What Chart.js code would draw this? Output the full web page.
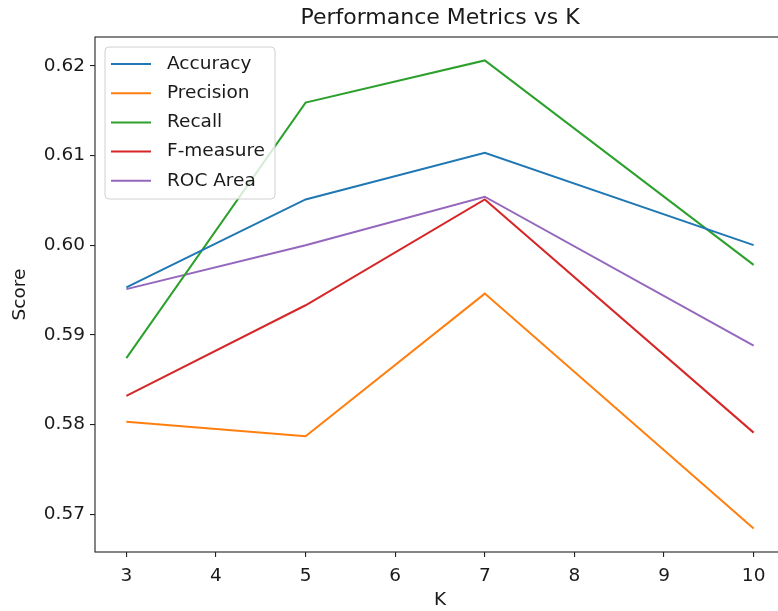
<!DOCTYPE html>
<html>
<head>
<meta charset="utf-8">
<script src="https://cdn.jsdelivr.net/npm/chart.js"></script>
<style>
  html, body { margin: 0; padding: 0; background: #fff; overflow: hidden; }
  canvas { display: block; }
</style>
</head>
<body>
<canvas id="metricsChart" width="840" height="611"></canvas>
<script>
const kValues = [3, 5, 7, 10];
const accuracy = [0.5953, 0.6051, 0.6103, 0.6000];
const precision = [0.5803, 0.5787, 0.5946, 0.5684];
const recall = [0.5874, 0.6159, 0.6206, 0.5978];
const fMeasure = [0.5832, 0.5933, 0.6051, 0.5791];
const rocArea = [0.5951, 0.6000, 0.6054, 0.5888];

const seriesNames = ['Accuracy', 'Precision', 'Recall', 'F-measure', 'ROC Area'];
const seriesValues = [accuracy, precision, recall, fMeasure, rocArea];
const seriesColors = ['#1f77b4', '#ff7f0e', '#2ca02c', '#d62728', '#9467bd'];

const xTicks = [3, 4, 5, 6, 7, 8, 9, 10];
const yTicks = [0.57, 0.58, 0.59, 0.60, 0.61, 0.62];

const FONT = "'DejaVu Sans', sans-serif";
const TEXT = '#1a1a1a';

// spines, title and legend, drawn like matplotlib does
const decor = {
    id: 'decor',
    afterDatasetsDraw(chart) {
        const c = chart.ctx;
        const a = chart.chartArea;
        c.save();

        c.strokeStyle = '#222';
        c.lineWidth = 1.1;
        c.strokeRect(a.left, a.top, a.right - a.left, a.bottom - a.top);

        c.fillStyle = TEXT;
        c.font = '22px ' + FONT;
        c.textAlign = 'center';
        c.textBaseline = 'middle';
        c.fillText('Performance Metrics vs K', (a.left + a.right) / 2, 18);

        // legend box
        const bx = a.left + 10, by = a.top + 10, bw = 170, bh = 152;
        c.beginPath();
        c.roundRect(bx, by, bw, bh, 4);
        c.fillStyle = 'rgba(255,255,255,0.8)';
        c.fill();
        c.strokeStyle = '#d0d0d0';
        c.lineWidth = 1;
        c.stroke();

        c.font = '18.5px ' + FONT;
        c.textAlign = 'left';
        chart.data.datasets.forEach((ds, i) => {
            const y = by + 17 + i * 29.2;
            c.strokeStyle = ds.borderColor;
            c.lineWidth = 2;
            c.beginPath();
            c.moveTo(bx + 6, y);
            c.lineTo(bx + 46, y);
            c.stroke();
            c.fillStyle = TEXT;
            c.fillText(ds.label, bx + 62, y);
        });
        c.restore();
    }
};

new Chart(document.getElementById('metricsChart'), {
    type: 'line',
    data: {
        datasets: seriesNames.map((name, i) => ({
            label: name,
            data: kValues.map((k, j) => ({ x: k, y: seriesValues[i][j] })),
            borderColor: seriesColors[i],
            backgroundColor: seriesColors[i],
            borderWidth: 2,
            pointRadius: 0,
            tension: 0,
            fill: false
        }))
    },
    options: {
        responsive: false,
        animation: false,
        layout: { padding: { top: 37, right: 55, left: 0, bottom: 0 } },
        plugins: {
            legend: { display: false },
            title: { display: false },
            tooltip: { enabled: false }
        },
        scales: {
            x: {
                type: 'linear',
                min: 2.65,
                max: 10.35,
                afterBuildTicks: s => { s.ticks = xTicks.map(v => ({ value: v })); },
                afterFit: s => { s.height = 59; },
                grid: { drawOnChartArea: false, drawTicks: true, tickLength: 5, color: '#222', lineWidth: 1.1 },
                border: { display: false },
                ticks: { color: TEXT, font: { family: FONT, size: 18.5 }, padding: 8, maxRotation: 0 },
                title: { display: true, text: 'K', color: TEXT, font: { family: FONT, size: 18.5 }, padding: { top: 0, bottom: 0 } }
            },
            y: {
                min: 0.56579,
                max: 0.62321,
                afterBuildTicks: s => { s.ticks = yTicks.map(v => ({ value: v })); },
                afterFit: s => { s.width = 95; },
                grid: { drawOnChartArea: false, drawTicks: true, tickLength: 5, color: '#222', lineWidth: 1.1 },
                border: { display: false },
                ticks: { color: TEXT, font: { family: FONT, size: 18.5 }, padding: 5, callback: v => v.toFixed(2) },
                title: { display: true, text: 'Score', color: TEXT, font: { family: FONT, size: 18.5 }, padding: { top: 9, bottom: 0 } }
            }
        }
    },
    plugins: [decor]
});
</script>
</body>
</html>
